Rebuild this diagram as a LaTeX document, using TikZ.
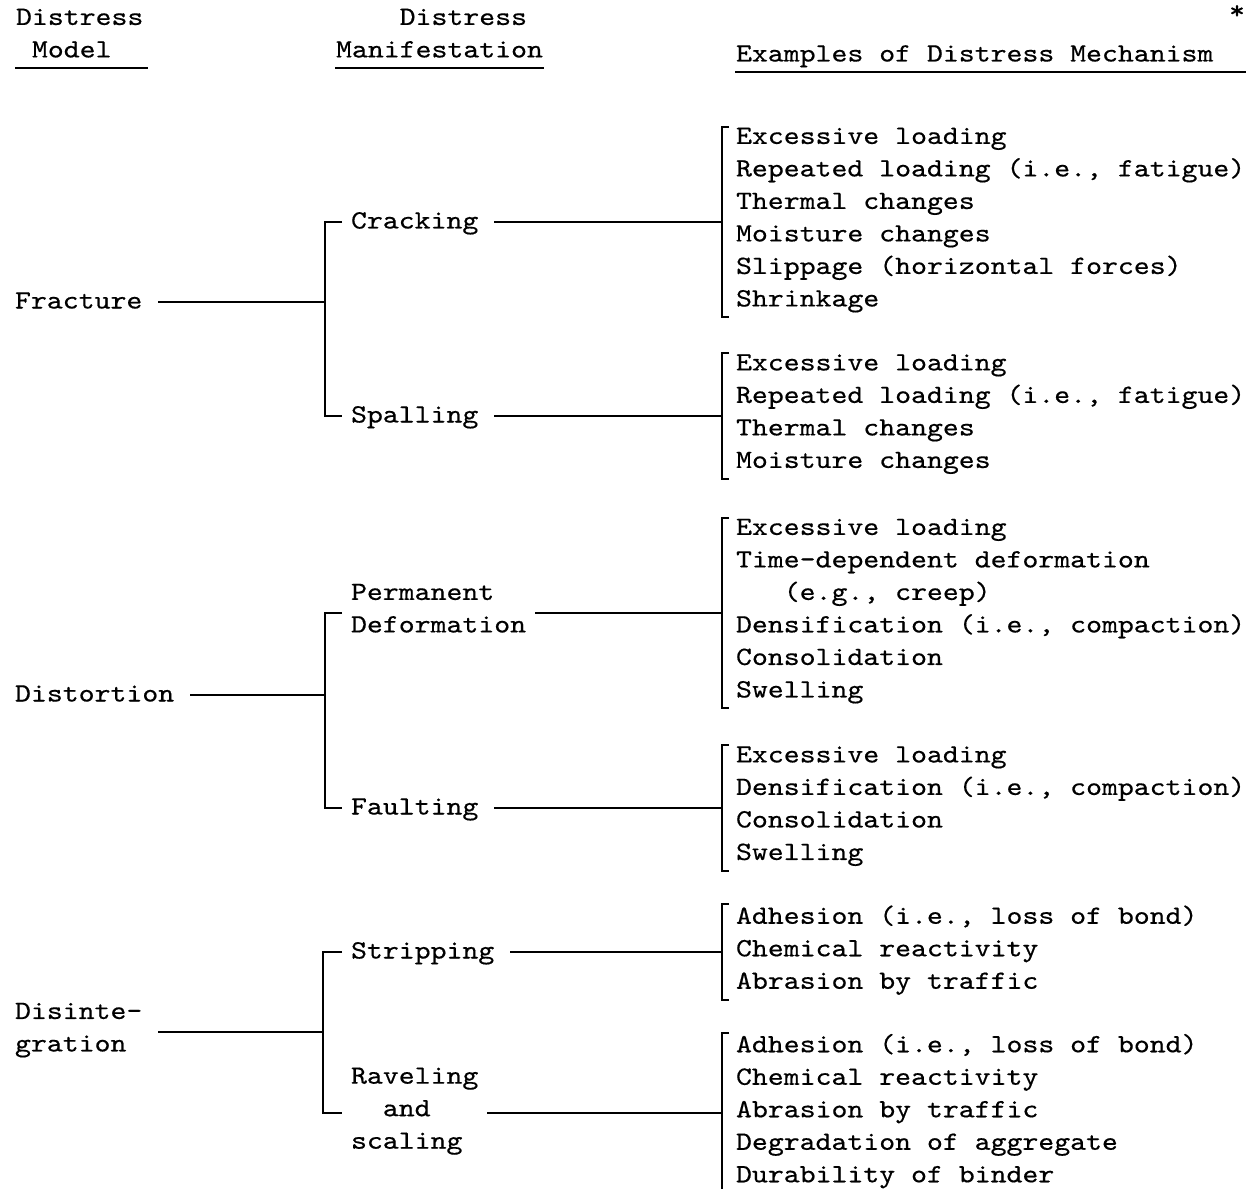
\documentclass[tikz,border=0pt]{standalone}
\usepackage{fontspec}
\usepackage{tikz}
\newfontfamily\typew[Extension=.otf,FakeStretch=1.15,FakeBold=0.5]{lmmono10-regular}
\tikzset{
  txt/.style={font=\typew\fontsize{15}{18.5}\selectfont\frenchspacing, inner sep=0pt, align=left,
    execute at begin node=\strut, execute at end node=\strut},
  model/.style={txt, anchor=west},
  manif/.style={txt, anchor=west, inner xsep=0.16cm},
  mech/.style={txt, anchor=west, inner xsep=0.26cm}
}

\begin{document}
\begin{tikzpicture}[x=0.02cm, y=-0.02cm, line width=1.2pt]
      \useasboundingbox (0,0) rectangle (1250,1189);

      \node[model] (hmodel) at (15,38) {Distress\\\phantom{D}Model};
      \node[model] (hmanif) at (335,38) {\phantom{Dist}Distress\\Manifestation};
      \node[model] (hmech) at (735,55) {Examples of Distress Mechanism};
      \node[font=\typew\fontsize{15}{18.5}\selectfont, inner sep=0pt] (star) at (1237,12) {*};
      \draw (hmodel.south west) -- ([xshift=0.08cm]hmodel.south east);
      \draw (hmanif.south west) -- (hmanif.south east);
      \draw (hmech.south west) -- (hmech.south west -| star.east);

      \node[model] (fract) at (14,302) {Fracture};
      \node[model] (distort) at (14,695) {Distortion};
      \node[model] (disint) at (14,1032) {Disinte-\\gration};
      \coordinate (j1) at (325,302);
      \coordinate (j2) at (325,695);
      \coordinate (j3) at (323,1032);

      \node[manif] (crack) at (342,222) {Cracking};
      \node[manif] (spall) at (342,416) {Spalling};
      \node[manif] (perm) at (342,613) {Permanent\\Deformation};
      \node[manif] (fault) at (342,808) {Faulting};
      \node[manif] (strip) at (342,952) {Stripping};
      \node[manif] (ravel) at (342,1113) {Raveling\\\phantom{Ra}and\\scaling};

      \node[mech] (m1) at (722,222) {Excessive loading\\Repeated loading (i.e., fatigue)\\Thermal changes\\Moisture changes\\Slippage (horizontal forces)\\Shrinkage};
      \node[mech] (m2) at (722,416) {Excessive loading\\Repeated loading (i.e., fatigue)\\Thermal changes\\Moisture changes};
      \node[mech] (m3) at (722,613) {Excessive loading\\Time-dependent deformation\\\phantom{Tim}(e.g., creep)\\Densification (i.e., compaction)\\Consolidation\\Swelling};
      \node[mech] (m4) at (722,808) {Excessive loading\\Densification (i.e., compaction)\\Consolidation\\Swelling};
      \node[mech] (m5) at (722,952) {Adhesion (i.e., loss of bond)\\Chemical reactivity\\Abrasion by traffic};
      \node[mech] (m6) at (722,1113) {Adhesion (i.e., loss of bond)\\Chemical reactivity\\Abrasion by traffic\\Degradation of aggregate\\Durability of binder};

      \draw[shorten <=0.3cm] (fract.east) -- (j1);
      \draw[shorten <=0.3cm] (distort.east) -- (j2);
      \draw[shorten <=0.3cm] (disint.east) -- (j3);
      \draw (crack.west) -| (j1) |- (spall.west);
      \draw (perm.west) -| (j2) |- (fault.west);
      \draw (strip.west) -| (j3) |- (ravel.west);

      \draw[shorten <=0.14cm] (crack.east) -- (m1.west);
      \draw[shorten <=0.14cm] (spall.east) -- (m2.west);
      \draw (perm.east) -- (m3.west);
      \draw[shorten <=0.14cm] (fault.east) -- (m4.west);
      \draw[shorten <=0.14cm] (strip.east) -- (m5.west);
      \draw (ravel.east) -- (m6.west);

      \draw ([xshift=0.14cm]m1.north west) -- (m1.north west) -- (m1.south west) -- ([xshift=0.14cm]m1.south west);
      \draw ([xshift=0.14cm]m2.north west) -- (m2.north west) -- (m2.south west) -- ([xshift=0.14cm]m2.south west);
      \draw ([xshift=0.14cm]m3.north west) -- (m3.north west) -- (m3.south west) -- ([xshift=0.14cm]m3.south west);
      \draw ([xshift=0.14cm]m4.north west) -- (m4.north west) -- (m4.south west) -- ([xshift=0.14cm]m4.south west);
      \draw ([xshift=0.14cm]m5.north west) -- (m5.north west) -- (m5.south west) -- ([xshift=0.14cm]m5.south west);
      \draw ([xshift=0.14cm]m6.north west) -- (m6.north west) -- (m6.south west) -- ([xshift=0.14cm]m6.south west);
    \end{tikzpicture}
\end{document}
